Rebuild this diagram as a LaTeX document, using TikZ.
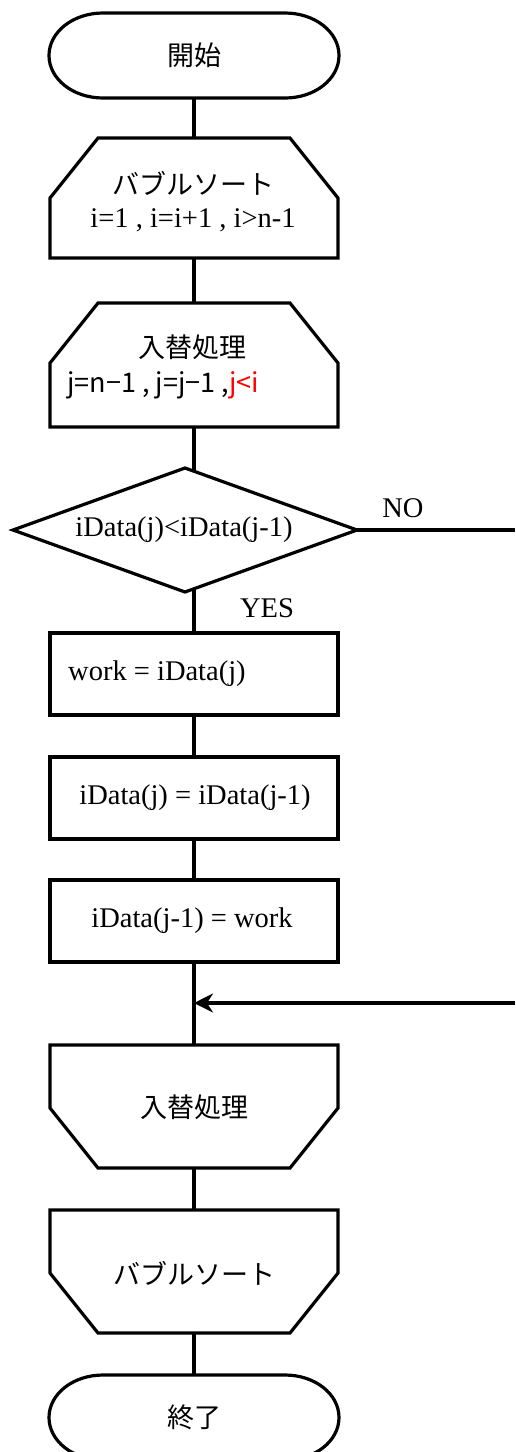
\documentclass[tikz,border=0pt]{standalone}
\usepackage{fontspec}
\setmainfont{Liberation Serif}
\newfontfamily\jp{Noto Sans CJK JP}
\usetikzlibrary{calc,arrows.meta}
\begin{document}
\begin{tikzpicture}[x=1pt,y=-1pt,
  outline/.style={draw=black, line width=3.2pt, line join=miter, fill=white},
  conn/.style={draw=black, line width=3.2pt},
  anc/.style={draw=none, inner sep=0pt, outer sep=0pt, minimum width=288pt},
  jt/.style={font=\jp\fontsize{27}{32}\selectfont, inner sep=0pt},
  lt/.style={font=\fontsize{28.5}{34}\selectfont, inner sep=0pt},
  tip/.style={-{Stealth[length=19pt,width=19pt,inset=6pt]}}]
\useasboundingbox (0,0) rectangle (515,1452);
\clip (0,0) rectangle (515,1452);

% anchor nodes (shape bounding boxes)
\node[anc, minimum height=85pt] (start) at (194,55.5) {};
\node[anc, minimum height=120pt] (loopA) at (194,198) {};
\node[anc, minimum height=124pt] (loopB) at (194,365) {};
\node[anc, minimum width=344pt, minimum height=124pt] (dec) at (185,530) {};
\node[anc, minimum height=82pt] (r1) at (194,674) {};
\node[anc, minimum height=82pt] (r2) at (194,798) {};
\node[anc, minimum height=82pt] (r3) at (194,921) {};
\node[anc, minimum height=123pt] (endB) at (194,1106.5) {};
\node[anc, minimum height=123pt] (endA) at (194,1271.5) {};
\node[anc, minimum height=85pt] (stop) at (194,1417.5) {};
\coordinate (noend) at (515,530);
\coordinate (backstart) at (515,1003);

% connectors
\draw[conn] (start.south) -- (loopA.north);
\draw[conn] (loopA.south) -- (loopB.north);
\draw[conn] (loopB.south) -- (loopB.south |- dec.center);
\draw[conn] (r1.north |- dec.center) -- (r1.north);
\draw[conn] (r1.south) -- (r2.north);
\draw[conn] (r2.south) -- (r3.north);
\draw[conn] (r3.south) -- (endB.north);
\draw[conn] (endB.south) -- (endA.north);
\draw[conn] (endA.south) -- (stop.north);
\draw[conn] (dec.east) -- (noend);
\draw[conn, tip] (backstart) -- (r3.south |- backstart);

% shapes
\path[outline] (103,13) -- (285,13) .. controls (315,13) and (339,32) .. (339,55.5)
  .. controls (339,79) and (315,98) .. (285,98) -- (103,98)
  .. controls (73,98) and (49,79) .. (49,55.5) .. controls (49,32) and (73,13) .. (103,13) -- cycle;
\path[outline] (98,138) -- (290,138) -- (338,198) -- (338,258) -- (50,258) -- (50,198) -- cycle;
\path[outline] (98,303) -- (290,303) -- (338,363) -- (338,427) -- (50,427) -- (50,363) -- cycle;
\path[outline] (13,530) -- (185,468) -- (357,530) -- (185,592) -- cycle;
\path[outline] (50,633) rectangle (338,715);
\path[outline] (50,757) rectangle (338,839);
\path[outline] (50,880) rectangle (338,962);
\path[outline] (50,1045) -- (338,1045) -- (338,1108) -- (290,1168) -- (98,1168) -- (50,1108) -- cycle;
\path[outline] (50,1210) -- (338,1210) -- (338,1273) -- (290,1333) -- (98,1333) -- (50,1273) -- cycle;
\path[outline] (103,1375) -- (285,1375) .. controls (315,1375) and (339,1394) .. (339,1417.5)
  .. controls (339,1441) and (315,1460) .. (285,1460) -- (103,1460)
  .. controls (73,1460) and (49,1441) .. (49,1417.5) .. controls (49,1394) and (73,1375) .. (103,1375) -- cycle;

% texts
\node[jt] (t0) at (194,55.5) {開始};
\node[jt] (t1) at (193,183) {バブルソート};
\node[lt] (t1b) at (193,220) {i=1 , i=i+1 , i>n-1};
\node[jt] (t2) at (192,347) {入替処理};
\node[jt, anchor=west] (t2b) at (67,385) {j=n−1 , j=j−1 ,{\color{red}j<i}};
\node[lt] (td) at (184,530) {iData(j)<iData(j-1)};
\node[lt] (tno) at (403,508) {NO};
\node[lt] (tyes) at (267,608) {YES};
\node[lt, anchor=west] (tr1) at (68,674) {work = iData(j)};
\node[lt] (tr2) at (195,798) {iData(j) = iData(j-1)};
\node[lt] (tr3) at (192,921) {iData(j-1) = work};
\node[jt] (t3) at (194,1107) {入替処理};
\node[jt] (t4) at (194,1273) {バブルソート};
\node[jt] (t5) at (194,1417.5) {終了};
\end{tikzpicture}
\end{document}
